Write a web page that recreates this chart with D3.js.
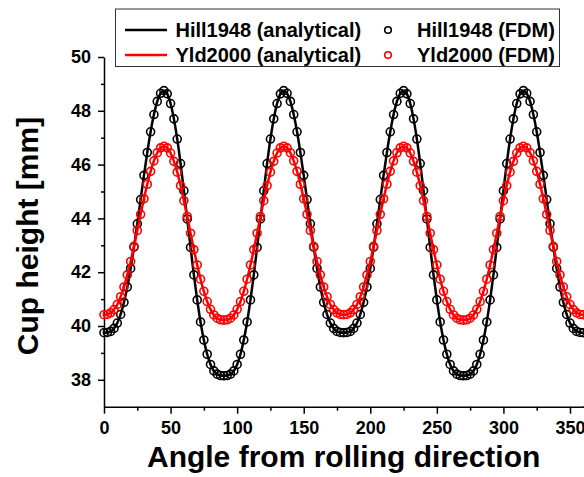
<!DOCTYPE html>
<html>
<head>
<meta charset="utf-8">
<script src="https://cdn.jsdelivr.net/npm/d3@7"></script>
<style>
  body { margin: 0; background: #fff; }
  text { font-family: "Liberation Sans", Arial, sans-serif; font-weight: bold; }
</style>
</head>
<body>
<div id="chart"></div>
<script>
const width = 584;
const height = 477;

// angle from rolling direction (deg)
var angles = [0,2.5,5,7.5,10,12.5,15,17.5,20,22.5,25,27.5,30,32.5,35,37.5,40,42.5,45,
  47.5,50,52.5,55,57.5,60,62.5,65,67.5,70,72.5,75,77.5,80,82.5,85,87.5,90,
  92.5,95,97.5,100,102.5,105,107.5,110,112.5,115,117.5,120,122.5,125,127.5,130,132.5,135,
  137.5,140,142.5,145,147.5,150,152.5,155,157.5,160,162.5,165,167.5,170,172.5,175,177.5,180,
  182.5,185,187.5,190,192.5,195,197.5,200,202.5,205,207.5,210,212.5,215,217.5,220,222.5,225,
  227.5,230,232.5,235,237.5,240,242.5,245,247.5,250,252.5,255,257.5,260,262.5,265,267.5,270,
  272.5,275,277.5,280,282.5,285,287.5,290,292.5,295,297.5,300,302.5,305,307.5,310,312.5,315,
  317.5,320,322.5,325,327.5,330,332.5,335,337.5,340,342.5,345,347.5,350,352.5,355,357.5,360]

// cup height [mm], Hill1948
var hill1948 = [39.75,39.76,39.80,39.91,40.11,40.43,40.88,41.45,42.14,42.93,43.80,44.70,45.60,46.45,47.22,47.86,48.35,48.65,48.75,
  48.63,48.27,47.70,46.95,46.04,45.03,43.98,42.92,41.90,40.97,40.15,39.48,38.95,38.57,38.33,38.21,38.16,38.15,
  38.16,38.21,38.33,38.57,38.95,39.48,40.15,40.97,41.90,42.92,43.98,45.03,46.04,46.95,47.70,48.27,48.63,48.75,
  48.65,48.35,47.86,47.22,46.45,45.60,44.70,43.80,42.93,42.14,41.45,40.88,40.43,40.11,39.91,39.80,39.76,39.75,
  39.76,39.80,39.91,40.11,40.43,40.88,41.45,42.14,42.93,43.80,44.70,45.60,46.45,47.22,47.86,48.35,48.65,48.75,
  48.63,48.27,47.70,46.95,46.04,45.03,43.98,42.92,41.90,40.97,40.15,39.48,38.95,38.57,38.33,38.21,38.16,38.15,
  38.16,38.21,38.33,38.57,38.95,39.48,40.15,40.97,41.90,42.92,43.98,45.03,46.04,46.95,47.70,48.27,48.63,48.75,
  48.65,48.35,47.86,47.22,46.45,45.60,44.70,43.80,42.93,42.14,41.45,40.88,40.43,40.11,39.91,39.80,39.76,39.75]

// cup height [mm], Yld2000
var yld2000 = [40.42,40.43,40.49,40.61,40.80,41.09,41.45,41.90,42.40,42.96,43.55,44.15,44.73,45.27,45.75,46.14,46.44,46.62,46.68,
  46.62,46.43,46.12,45.72,45.22,44.66,44.07,43.45,42.84,42.27,41.74,41.29,40.91,40.62,40.41,40.29,40.23,40.22,
  40.23,40.29,40.41,40.62,40.91,41.29,41.74,42.27,42.84,43.45,44.07,44.66,45.22,45.72,46.12,46.43,46.62,46.68,
  46.62,46.44,46.14,45.75,45.27,44.73,44.15,43.55,42.96,42.40,41.90,41.45,41.09,40.80,40.61,40.49,40.43,40.42,
  40.43,40.49,40.61,40.80,41.09,41.45,41.90,42.40,42.96,43.55,44.15,44.73,45.27,45.75,46.14,46.44,46.62,46.68,
  46.62,46.43,46.12,45.72,45.22,44.66,44.07,43.45,42.84,42.27,41.74,41.29,40.91,40.62,40.41,40.29,40.23,40.22,
  40.23,40.29,40.41,40.62,40.91,41.29,41.74,42.27,42.84,43.45,44.07,44.66,45.22,45.72,46.12,46.43,46.62,46.68,
  46.62,46.44,46.14,45.75,45.27,44.73,44.15,43.55,42.96,42.40,41.90,41.45,41.09,40.80,40.61,40.49,40.43,40.42]

var xTicks = [0, 50, 100, 150, 200, 250, 300, 350]
var xMinor = [25, 75, 125, 175, 225, 275, 325]
var yTicks = [38, 40, 42, 44, 46, 48, 50]
var yMinor = [39, 41, 43, 45, 47, 49]

var seriesList = [
  { name: "Hill1948", color: "#000000", values: hill1948 },
  { name: "Yld2000", color: "#ff0000", values: yld2000 }
]

const svg = d3.select("#chart").append("svg")
  .attr("width", width)
  .attr("height", height)

const x = d3.scaleLinear().domain([0, 360]).range([104, 583.3])
const y = d3.scaleLinear().domain([37, 50]).range([406.7, 57])

// axes
var xAxis = svg.append("g")
  .attr("transform", "translate(0," + y(37) + ")")
  .call(d3.axisBottom(x).tickValues(xTicks).tickSize(7).tickPadding(8).tickSizeOuter(0))
xAxis.append("line")
  .attr("x1", x(360)).attr("x2", 584)
  .attr("stroke", "#000").attr("stroke-width", 1.5)
svg.append("g")
  .attr("transform", "translate(0," + y(37) + ")")
  .call(d3.axisBottom(x).tickValues(xMinor).tickSize(4).tickFormat("").tickSizeOuter(0))
  .select(".domain").remove()

var yAxis = svg.append("g")
  .attr("transform", "translate(" + x(0) + ",0)")
  .call(d3.axisLeft(y).tickValues(yTicks).tickSize(6).tickPadding(7).tickSizeOuter(0))
svg.append("g")
  .attr("transform", "translate(" + x(0) + ",0)")
  .call(d3.axisLeft(y).tickValues(yMinor).tickSize(3).tickFormat("").tickSizeOuter(0))
  .select(".domain").remove()

svg.selectAll(".domain, .tick line")
  .attr("stroke", "#000")
  .attr("stroke-width", 1.5)
svg.selectAll(".tick text")
  .attr("fill", "#000")
  .style("font-size", "18px")

// axis titles
svg.append("text")
  .attr("x", (x(0) + x(360)) / 2)
  .attr("y", 467)
  .attr("text-anchor", "middle")
  .style("font-size", "30px")
  .text("Angle from rolling direction")

svg.append("text")
  .attr("transform", "translate(38," + 236 + ") rotate(-90)")
  .attr("text-anchor", "middle")
  .style("font-size", "30px")
  .text("Cup height [mm]")

// curves
var line = d3.line()
  .x(function(d, i) { return x(angles[i]) })
  .y(function(d) { return y(d) })
  .curve(d3.curveMonotoneX)

seriesList.forEach(function(s) {
  svg.append("path")
    .datum(s.values)
    .attr("d", line)
    .attr("fill", "none")
    .attr("stroke", s.color)
    .attr("stroke-width", 2.5)

  svg.append("g").selectAll("circle")
    .data(s.values)
    .enter()
    .append("circle")
    .attr("cx", function(d, i) { return x(angles[i]) })
    .attr("cy", function(d) { return y(d) })
    .attr("r", 4)
    .attr("fill", "none")
    .attr("stroke", s.color)
    .attr("stroke-width", 1.6)
})

// legend
var legend = svg.append("g")
legend.append("rect")
  .attr("x", 115.5).attr("y", 9)
  .attr("width", 444).attr("height", 57.5)
  .attr("fill", "#fff")
  .attr("stroke", "#333")
  .attr("stroke-width", 1)

seriesList.forEach(function(s, i) {
  var cy = 30 + i * 25
  legend.append("line")
    .attr("x1", 125).attr("x2", 167)
    .attr("y1", cy).attr("y2", cy)
    .attr("stroke", s.color)
    .attr("stroke-width", 2.5)
  legend.append("text")
    .attr("x", 175.5).attr("y", cy + 7)
    .style("font-size", "20px")
    .text(s.name + " (analytical)")
  legend.append("circle")
    .attr("cx", 388).attr("cy", cy)
    .attr("r", 3.3)
    .attr("fill", "none")
    .attr("stroke", s.color)
    .attr("stroke-width", 1.6)
  legend.append("text")
    .attr("x", 417).attr("y", cy + 7)
    .style("font-size", "20px")
    .text(s.name + " (FDM)")
})
</script>
</body>
</html>
